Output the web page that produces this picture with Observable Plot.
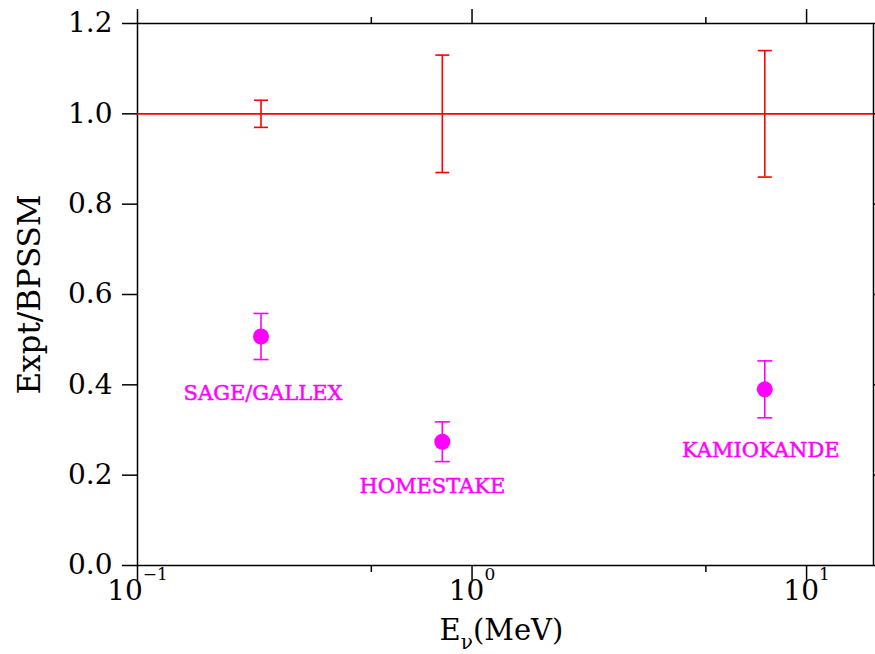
<!DOCTYPE html>
<html><head><meta charset="utf-8">
<script src="https://cdn.jsdelivr.net/npm/d3@7"></script>
<script src="https://cdn.jsdelivr.net/npm/@observablehq/plot@0.6"></script>
<style>body{margin:0;background:#fff;}</style>
</head><body><div id="chart"></div>
<script>
// ---- data ----
const energies = [0.234, 0.815, 7.5];          // MeV
const ssmRatio = [1, 1, 1];
const ssmErr = [0.03, 0.13, 0.14];
const exptRatio = [0.507, 0.274, 0.390];
const exptErr = [0.051, 0.044, 0.063];
const experiments = ["SAGE/GALLEX", "HOMESTAKE", "KAMIOKANDE"];
const yTicks = [0, 0.2, 0.4, 0.6, 0.8, 1.0, 1.2];
const xMajorTicks = [0.1, 1, 10];
const xMinorTicks = [0.5, 5];
const xTickExponents = ["−1", "0", "1"];

// ---- tables built from the arrays ----
const ssm = energies.map((e, i) => ({e, v: ssmRatio[i], lo: ssmRatio[i] - ssmErr[i], hi: ssmRatio[i] + ssmErr[i]}));
const expt = energies.map((e, i) => ({e, v: exptRatio[i], lo: exptRatio[i] - exptErr[i], hi: exptRatio[i] + exptErr[i], name: experiments[i]}));
const xTicks = xMajorTicks.map((v, i) => ({v, label: "10^" + xTickExponents[i]}));

// label placement relative to each point (pixels)
const labelOffsets = [[2, 57], [-10, 45], [-4, 61]];

const cap = {draw(ctx, size) { const r = Math.sqrt(size / Math.PI); ctx.moveTo(-r, 0); ctx.lineTo(r, 0); }};

const svg = Plot.plot({
  width: 875, height: 654,
  marginLeft: 137, marginRight: 2, marginTop: 23, marginBottom: 89,
  style: {fontFamily: "DejaVu Serif", background: "#fff", color: "black"},
  x: {type: "log", domain: [0.1, 15.85]},
  y: {domain: [0, 1.2]},
  marks: [
    Plot.frame({stroke: "black", strokeWidth: 1.5}),
    Plot.axisY({ticks: yTicks, tickSize: 15, tickPadding: 10, strokeWidth: 1.5, fontSize: 28, tickFormat: d => d.toFixed(1), label: null}),
    Plot.axisY({anchor: "right", ticks: yTicks, tickSize: 15, strokeWidth: 1.5, tickFormat: () => "", label: null}),
    Plot.axisX({ticks: xMajorTicks, tickSize: 15, strokeWidth: 1.5, tickFormat: () => "", label: null}),
    Plot.axisX({ticks: xMinorTicks, tickSize: 7, strokeWidth: 1.5, tickFormat: () => "", label: null}),
    Plot.axisX({anchor: "top", ticks: xMajorTicks, tickSize: 15, strokeWidth: 1.5, tickFormat: () => "", label: null}),
    Plot.axisX({anchor: "top", ticks: xMinorTicks, tickSize: 7, strokeWidth: 1.5, tickFormat: () => "", label: null}),
    Plot.text(xTicks, {x: "v", frameAnchor: "bottom", dy: 34, text: "label", fontSize: 28, fill: "black", textAnchor: "middle"}),
    // SSM reference
    Plot.ruleY([1], {stroke: "red", strokeWidth: 1.6}),
    Plot.ruleX(ssm, {x: "e", y1: "lo", y2: "hi", stroke: "red", strokeWidth: 1.6}),
    Plot.dot(ssm, {x: "e", y: "lo", symbol: cap, r: 7, stroke: "red", strokeWidth: 1.6, fill: "none"}),
    Plot.dot(ssm, {x: "e", y: "hi", symbol: cap, r: 7, stroke: "red", strokeWidth: 1.6, fill: "none"}),
    // experiments
    Plot.ruleX(expt, {x: "e", y1: "lo", y2: "hi", stroke: "magenta", strokeWidth: 1.6}),
    Plot.dot(expt, {x: "e", y: "lo", symbol: cap, r: 7.5, stroke: "magenta", strokeWidth: 1.6, fill: "none"}),
    Plot.dot(expt, {x: "e", y: "hi", symbol: cap, r: 7.5, stroke: "magenta", strokeWidth: 1.6, fill: "none"}),
    Plot.dot(expt, {x: "e", y: "v", r: 8, fill: "magenta", stroke: "none"}),
    ...expt.map((d, i) => Plot.text([d], {x: "e", y: "v", text: "name", dx: labelOffsets[i][0], dy: labelOffsets[i][1], fill: "magenta", stroke: "magenta", strokeWidth: 0.5, fontSize: 21, textAnchor: "middle", lineAnchor: "middle"})),
    // axis titles
    Plot.text(["Expt/BPSSM"], {frameAnchor: "left", dx: -107, rotate: -90, text: d => d, fontSize: 31, fill: "black", textAnchor: "middle", lineAnchor: "middle"}),
    Plot.text(["E_ν(MeV)"], {frameAnchor: "bottom", dx: -4, dy: 65, text: d => d, fontSize: 29, fill: "black", textAnchor: "middle", lineAnchor: "middle"})
  ]
});

// superscripts / subscripts as real tspans
d3.select(svg).selectAll("text").each(function () {
  const t = this.textContent;
  let m = /^10\^(.+)$/.exec(t);
  if (m) {
    const el = d3.select(this); el.text("10");
    el.append("tspan").attr("font-size", 17).attr("dy", -20).text(m[1]);
    return;
  }
  m = /^E_(.)(.*)$/.exec(t);
  if (m) {
    const el = d3.select(this); el.text("E");
    el.append("tspan").attr("font-size", 20).attr("dy", 9).text(m[1]);
    el.append("tspan").attr("dy", -9).text(m[2]);
  }
});

document.getElementById("chart").appendChild(svg);
</script>
</body></html>
